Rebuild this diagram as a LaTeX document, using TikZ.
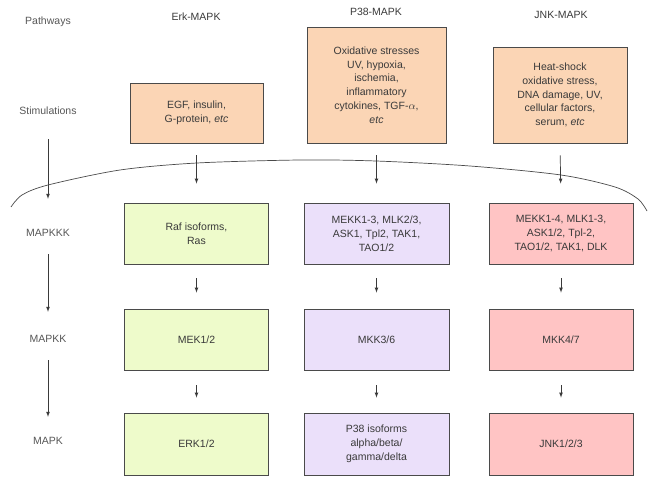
\documentclass[tikz,border=0pt]{standalone}
\usepackage{fontspec}
\setmainfont{Liberation Sans}
\usetikzlibrary{arrows}

\definecolor{stimcol}{HTML}{FBD5B5}
\definecolor{erkcol}{HTML}{EEFBCB}
\definecolor{pcol}{HTML}{EBE0FA}
\definecolor{jnkcol}{HTML}{FFC4C4}
\definecolor{txtcol}{HTML}{3A3A3A}
\definecolor{edgecol}{HTML}{4A4A4A}

\begin{document}
\begin{tikzpicture}[x=1pt,y=-1pt,>=latex,
	every node/.style={font=\fontsize{10.5}{13.8}\selectfont,text=txtcol},
	lab/.style={text=txtcol!85},
	box/.style={draw=edgecol,line width=0.8pt,align=center,inner sep=0pt},
	flow/.style={->,line width=0.7pt,txtcol}]
	\useasboundingbox (0,0) rectangle (656,486);
	% column titles
	\node[lab] (pw) at (48,22) {Pathways};
	\node (erk) at (196,17) {Erk-MAPK};
	\node (p38) at (376,12) {P38-MAPK};
	\node (jnk) at (561,15) {JNK-MAPK};
	% left column
	\node[lab] (stim) at (48,111) {Stimulations};
	\node[lab] (kkk) at (48,233) {MAPKKK};
	\node[lab] (kk) at (48,339) {MAPKK};
	\node[lab] (k) at (48,441) {MAPK};
	\draw[flow,shorten <=21pt,shorten >=27pt] (stim) -- (kkk);
	\draw[flow,shorten <=14pt,shorten >=20pt] (kkk) -- (kk);
	\draw[flow,shorten <=14pt,shorten >=17pt] (kk) -- (k);
	% stimulations
	\node[box,fill=stimcol,minimum width=133pt,minimum height=60pt] (erks) at (196.5,113) {EGF, insulin,\\G-protein, \textit{etc}};
	\node[box,fill=stimcol,minimum width=139pt,minimum height=116pt] (p38s) at (376.5,85) {Oxidative stresses\\UV, hypoxia,\\ischemia,\\inflammatory\\cytokines, TGF-$\alpha$,\\\textit{etc}};
	\node[box,fill=stimcol,minimum width=134pt,minimum height=96pt] (jnks) at (560,95) {Heat-shock\\oxidative stress,\\DNA damage, UV,\\cellular factors,\\serum, \textit{etc}};
	% membrane
	\draw[edgecol,line width=0.7pt] plot[smooth] coordinates {(11,207) (22,195) (48,185) (120,170) (197,163) (300,160) (376,161) (470,166) (561,175) (615,187) (638,199) (647,211)};
	% MAPKKK
	\node[box,fill=erkcol,minimum width=144pt,minimum height=61pt] (erk3) at (196.5,233.5) {Raf isoforms,\\Ras};
	\node[box,fill=pcol,minimum width=145pt,minimum height=61pt] (p383) at (376.5,233.5) {MEKK1-3, MLK2/3,\\ASK1, Tpl2, TAK1,\\TAO1/2};
	\node[box,fill=jnkcol,minimum width=144pt,minimum height=61pt] (jnk3) at (561,233.5) {MEKK1-4, MLK1-3,\\ASK1/2, Tpl-2,\\TAO1/2, TAK1, DLK};
	% MAPKK
	\node[box,fill=erkcol,minimum width=144pt,minimum height=61pt] (erk2) at (196.5,339.5) {MEK1/2};
	\node[box,fill=pcol,minimum width=145pt,minimum height=61pt] (p382) at (376.5,339.5) {MKK3/6};
	\node[box,fill=jnkcol,minimum width=144pt,minimum height=61pt] (jnk2) at (561,339.5) {MKK4/7};
	% MAPK
	\node[box,fill=erkcol,minimum width=144pt,minimum height=62pt] (erk1) at (196.5,444) {ERK1/2};
	\node[box,fill=pcol,minimum width=145pt,minimum height=62pt] (p381) at (376.5,444) {P38 isoforms\\alpha/beta/\\gamma/delta};
	\node[box,fill=jnkcol,minimum width=144pt,minimum height=62pt] (jnk1) at (561,444) {JNK1/2/3};
	% arrows
	\draw[flow,shorten <=12pt,shorten >=19pt] (erks.south) -- (erk3.north);
	\draw[flow,shorten <=12pt,shorten >=19pt] (p38s.south) -- (p383.north);
	\draw[flow,shorten <=12pt,shorten >=19pt] (jnks.south) -- (jnk3.north);
	\foreach \c in {erk,p38,jnk}{
		\draw[flow,shorten <=14pt,shorten >=16pt] (\c3.south) -- (\c2.north);
		\draw[flow,shorten <=15pt,shorten >=15pt] (\c2.south) -- (\c1.north);
	}
\end{tikzpicture}
\end{document}
